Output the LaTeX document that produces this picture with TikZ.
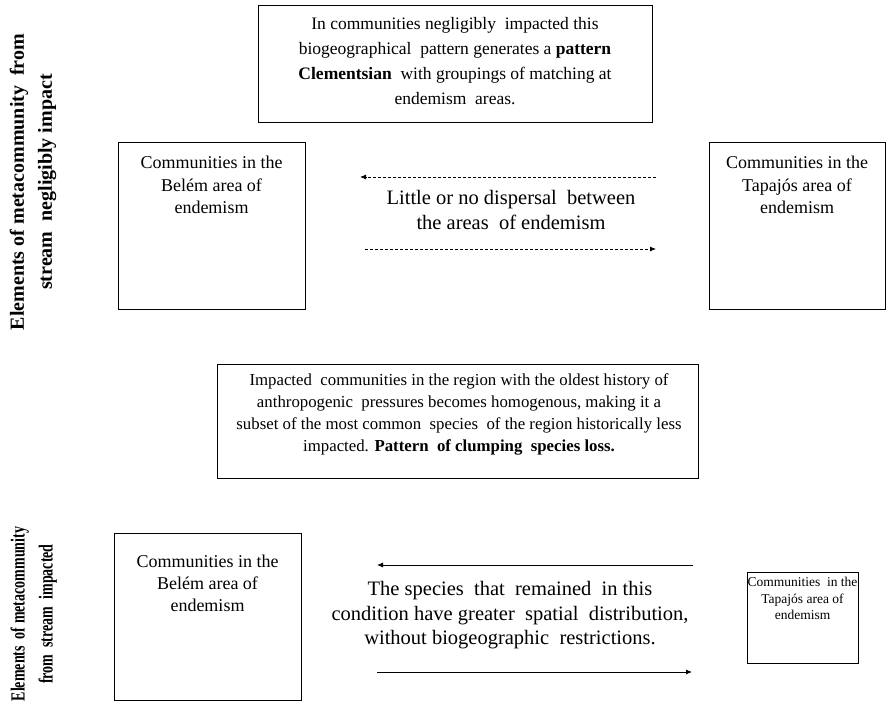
\documentclass[tikz,border=0pt]{standalone}
\usepackage{fontspec}
\setmainfont{Liberation Serif}
\usetikzlibrary{arrows.meta}
\begin{document}
\begin{tikzpicture}[x=1pt,y=-1pt,
  frame/.style={draw, line width=0.9pt, inner sep=0pt, anchor=north west},
  txt/.style={align=center, inner sep=0pt},
  dasharrow/.style={dash pattern=on 3pt off 2pt, line width=0.8pt, -{Latex[length=6pt,width=5pt]}},
  solidarrow/.style={line width=0.9pt, -{Latex[length=6pt,width=5pt]}},
  sidelabel/.style={align=center, inner sep=0pt, rotate=90, font=\fontsize{20}{28}\selectfont\bfseries}]
\useasboundingbox (0,0) rectangle (886,703);

% ---------- top half ----------
\node[sidelabel] (labA) at (33,182) {Elements of metacommunity\ \ from\\ stream\ \ negligibly impact};

\node[frame, minimum width=394pt, minimum height=117pt] (topbox) at (258,5) {};
\node[txt, font=\fontsize{17.5}{25}\selectfont] (toptext) at (455,61)
  {In communities negligibly\ \ impacted this\\
   biogeographical\ \ pattern generates a \textbf{pattern}\\
   \textbf{Clementsian}\ \ with groupings of matching at\\
   endemism\ \ areas.};

\node[frame, minimum width=187pt, minimum height=167pt] (belemA) at (118,142) {};
\node[txt, font=\fontsize{18}{22.5}\selectfont] (belemAt) at (211.5,185)
  {Communities in the\\ Belém area of\\ endemism};

\node[frame, minimum width=176pt, minimum height=167pt] (tapA) at (709,142) {};
\node[txt, font=\fontsize{18}{22.5}\selectfont] (tapAt) at (797,185)
  {Communities in the\\ Tapajós area of\\ endemism};

\coordinate (a1s) at (656,177);
\coordinate (a1e) at (360,177);
\coordinate (a2s) at (365,249);
\coordinate (a2e) at (656,249);
\draw[dasharrow] (a1s) -- (a1e);
\draw[dasharrow] (a2s) -- (a2e);
\node[txt, font=\fontsize{20.5}{25}\selectfont] (disp) at (511,209.5)
  {Little or no dispersal\ \ between\\ the areas\ \ of endemism};

% ---------- bottom half ----------
\node[sidelabel] (labB) at (33,614) {\scalebox{0.7}[1]{\begin{tabular}{@{}c@{}}Elements\ \ of metacommunity\\ from\ \ stream\ \ impacted\end{tabular}}};

\node[frame, minimum width=481pt, minimum height=114pt] (midbox) at (217,364) {};
\node[txt, font=\fontsize{16.8}{21.8}\selectfont] (midtext) at (459,414.5)
  {Impacted\ \ communities in the region with the oldest history of\\
   anthropogenic\ \ pressures becomes homogenous, making it a\\
   subset of the most common\ \ species\ \ of the region historically less\\
   impacted. \textbf{Pattern\ \ of clumping\ \ species loss.}};

\node[frame, minimum width=187pt, minimum height=167pt] (belemB) at (114,533) {};
\node[txt, font=\fontsize{18}{22}\selectfont] (belemBt) at (207.5,583)
  {Communities in the\\ Belém area of\\ endemism};

\node[frame, minimum width=111pt, minimum height=91pt] (tapB) at (747,572) {};
\node[txt, font=\fontsize{13.5}{16.5}\selectfont] (tapBt) at (802.5,598.5)
  {Communities\ \ in the\\ Tapajós area of\\ endemism};

\coordinate (b1s) at (693,565);
\coordinate (b1e) at (377,565);
\coordinate (b2s) at (377,672);
\coordinate (b2e) at (692,672);
\draw[solidarrow] (b1s) -- (b1e);
\draw[solidarrow] (b2s) -- (b2e);
\node[txt, font=\fontsize{20.5}{24.5}\selectfont] (spec) at (510,615.5)
  {The species\ \ that\ \ remained\ \ in this\\
   condition have greater\ \ spatial\ \ distribution,\\
   without biogeographic\ \ restrictions.};
\end{tikzpicture}
\end{document}
